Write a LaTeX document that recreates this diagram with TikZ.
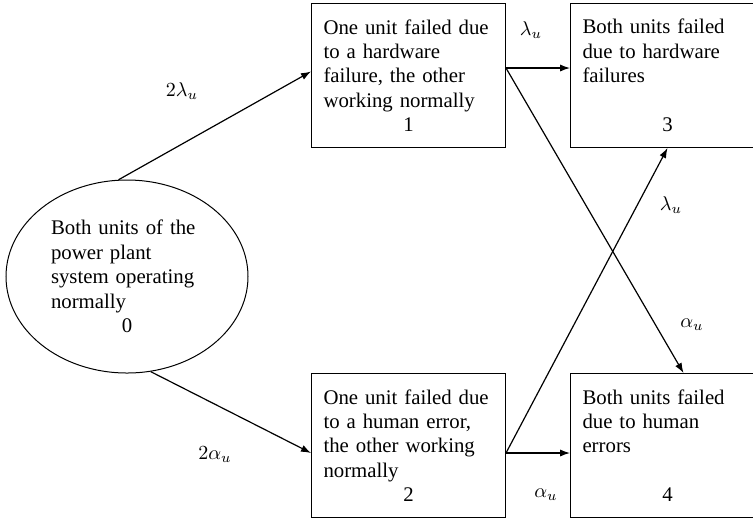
\documentclass[tikz,border=0pt]{standalone}
\usepackage{fontspec}
\setmainfont{Liberation Serif}
\usepackage{tikz}
\usetikzlibrary{positioning}
\usetikzlibrary{arrows.meta, shapes.geometric}

\newcommand{\midnum}[1]{\hspace*{\fill}#1\hspace*{\fill}\null}

\begin{document}
\begin{tikzpicture}[
			x=0.5pt, y=-0.5pt,
			node distance=32pt,
			font=\fontsize{10.4}{12.2}\selectfont,
			box/.style={
				draw,
				rectangle,
				line width=0.5pt,
				align=left,
				inner xsep=6pt,
				inner ysep=0pt,
				text width=85pt,
				minimum width=97pt,
				minimum height=72pt
			},
			oval/.style={
				draw,
				ellipse,
				line width=0.5pt,
				align=left,
				inner sep=0pt,
				text width=76pt,
				minimum width=121pt,
				minimum height=96.5pt
			},
			rate/.style={inner sep=0pt},
			arrow/.style={-{Latex[length=5pt,width=3.6pt]}, line width=0.6pt}
			]
			
			\useasboundingbox (0,0) rectangle (753,521);
			
			\node[oval] (s0) at (127,276.5) {Both units of the\\power plant\\system operating\\normally\\\midnum{0}};
			\node[box, anchor=north west] (s1) at (311,3) {One unit failed due\\to a hardware\\failure, the other\\working normally\\\midnum{1}};
			\node[box, right=of s1] (s3) {Both units failed\\due to hardware\\failures\\[12.2pt]\midnum{3}};
			\node[box, below=112.5pt of s1] (s2) {One unit failed due\\to a human error,\\the other working\\normally\\\midnum{2}};
			\node[box, right=of s2] (s4) {Both units failed\\due to human\\errors\\[12.2pt]\midnum{4}};
			
			\draw[arrow] (s0.95) -- ([yshift=2pt]s1.west);
			\draw[arrow] (s0.284) -- ([yshift=-3.75pt]s2.west);
			\draw[arrow] ([yshift=3.75pt]s1.east) -- ([yshift=3.75pt]s3.west);
			\draw[arrow] ([yshift=3.75pt]s1.east) -- ([xshift=8pt]s4.north);
			\draw[arrow] ([yshift=-3.75pt]s2.east) -- (s3.south);
			\draw[arrow] ([yshift=-3.75pt]s2.east) -- ([yshift=-3.75pt]s4.west);
			
			\node[rate] (r01) at (182,91) {$2\lambda_u$};
			\node[rate] (r02) at (215,455) {$2\alpha_u$};
			\node[rate] (r13) at (531,30) {$\lambda_u$};
			\node[rate] (r23) at (671,205) {$\lambda_u$};
			\node[rate] (r14) at (692,325) {$\alpha_u$};
			\node[rate] (r24) at (546,495) {$\alpha_u$};
			
		\end{tikzpicture}
\end{document}
